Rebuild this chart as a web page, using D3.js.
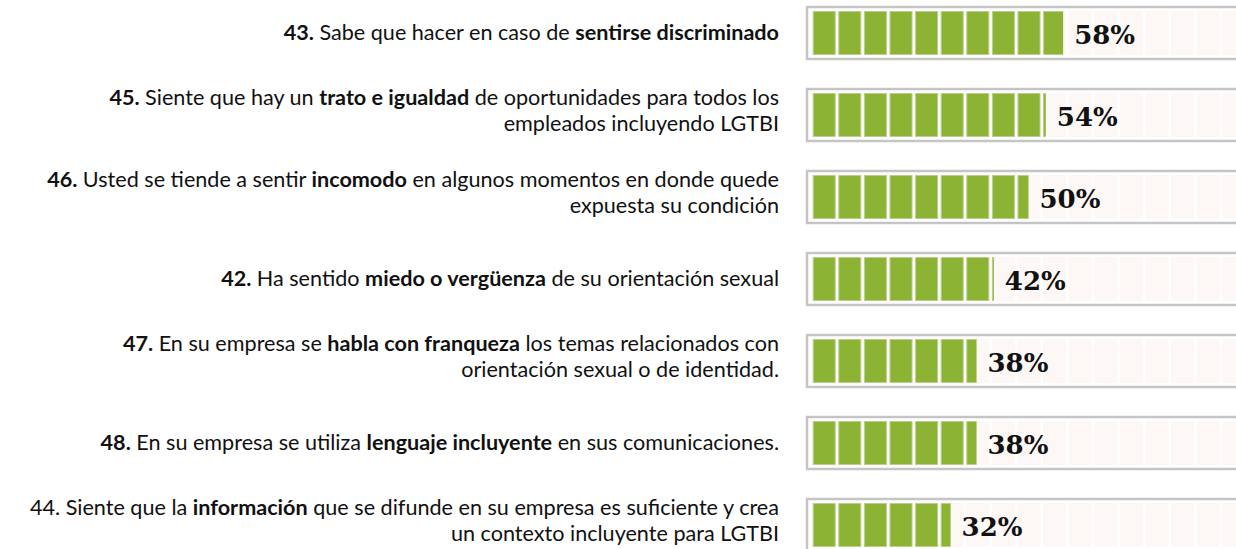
<!DOCTYPE html>
<html>
<head>
<meta charset="utf-8">
<script src="https://cdn.jsdelivr.net/npm/d3@7"></script>
<style>
  body { margin: 0; background: #fff; }
  svg { display: block; }
</style>
</head>
<body>
<div id="chart"></div>
<script>
// question labels, one array per row, **...** marks bold parts
var labels = [
  ["**43.** Sabe que hacer en caso de **sentirse discriminado**"],
  ["**45.** Siente que hay un **trato e igualdad** de oportunidades para todos los", "empleados incluyendo LGTBI"],
  ["**46.** Usted se tiende a sentir **incomodo** en algunos momentos en donde quede", "expuesta su condición"],
  ["**42.** Ha sentido **miedo o vergüenza** de su orientación sexual"],
  ["**47.** En su empresa se **habla con franqueza** los temas relacionados con", "orientación sexual o de identidad."],
  ["**48.** En su empresa se utiliza **lenguaje incluyente** en sus comunicaciones."],
  ["44. Siente que la **información** que se difunde en su empresa es suficiente y crea", "un contexto incluyente para LGTBI"]
];
var values = [58, 54, 50, 42, 38, 38, 32];

var width = 1236, height = 549;
var green = "#8db335";

var svg = d3.select("#chart").append("svg")
  .attr("width", width)
  .attr("height", height);

var y = d3.scaleBand()
  .domain(d3.range(values.length))
  .range([6, 552])
  .paddingInner(0.3415)
  .paddingOuter(0);

var x = d3.scaleLinear().domain([0, 100]).range([812, 1245]);

// little cells inside each bar
var cellPitch = 25.6, cellW = 23;
var cells = d3.range(18);

var defs = svg.append("defs");

var row = svg.selectAll("g.row")
  .data(values)
  .enter().append("g")
  .attr("class", "row")
  .attr("transform", function(d, i){ return "translate(0," + y(i) + ")"; });

var bh = y.bandwidth();

// frame
row.append("rect")
  .attr("x", 807)
  .attr("y", 1)
  .attr("width", 460)
  .attr("height", bh - 2)
  .attr("fill", "#fff")
  .attr("stroke", "#c5c5c5")
  .attr("stroke-width", 2.5);

// background cells + green cells clipped at the value
row.each(function(d, i){
  var g = d3.select(this);
  g.selectAll("rect.bg")
    .data(cells)
    .enter().append("rect")
    .attr("class", "bg")
    .attr("x", function(c){ return x(0) + 0.7 + c * cellPitch; })
    .attr("y", 5)
    .attr("width", cellW)
    .attr("height", bh - 10)
    .attr("fill", "#fdf8f6");

  defs.append("clipPath")
    .attr("id", "clip" + i)
    .append("rect")
    .attr("x", x(0))
    .attr("y", 0)
    .attr("width", x(d) - x(0))
    .attr("height", bh);

  g.append("g")
    .attr("clip-path", "url(#clip" + i + ")")
    .selectAll("rect.fg")
    .data(cells)
    .enter().append("rect")
    .attr("class", "fg")
    .attr("x", function(c){ return x(0) + 1.2 + c * cellPitch; })
    .attr("y", 5.5)
    .attr("width", cellW - 1)
    .attr("height", bh - 11)
    .attr("fill", green)
    .attr("stroke", "#b9d08a")
    .attr("stroke-width", 1);
});

// value labels
row.append("text")
  .attr("x", function(d){ return x(d) + 11; })
  .attr("y", bh / 2 + 11)
  .attr("font-family", "'DejaVu Serif', serif")
  .attr("font-weight", "bold")
  .attr("font-size", 26)
  .attr("fill", "#111")
  .text(function(d){ return d + "%"; });

// question text, one <text> per line
row.each(function(d, i){
  var lines = labels[i];
  var lh = 26;
  var y0 = bh / 2 + 7 - (lines.length - 1) * 17;
  lines.forEach(function(line, k){
    var t = d3.select(this).append("text")
      .attr("text-anchor", "end")
      .attr("font-family", "Lato, sans-serif")
      .attr("font-size", 21.6)
      .attr("fill", "#111")
      .attr("x", 779)
      .attr("y", y0 + k * lh);
    line.split("**").forEach(function(part, j){
      if (!part) return;
      t.append("tspan")
        .attr("font-weight", j % 2 ? "bold" : "normal")
        .text(part);
    });
  }, this);
});
</script>
</body>
</html>
